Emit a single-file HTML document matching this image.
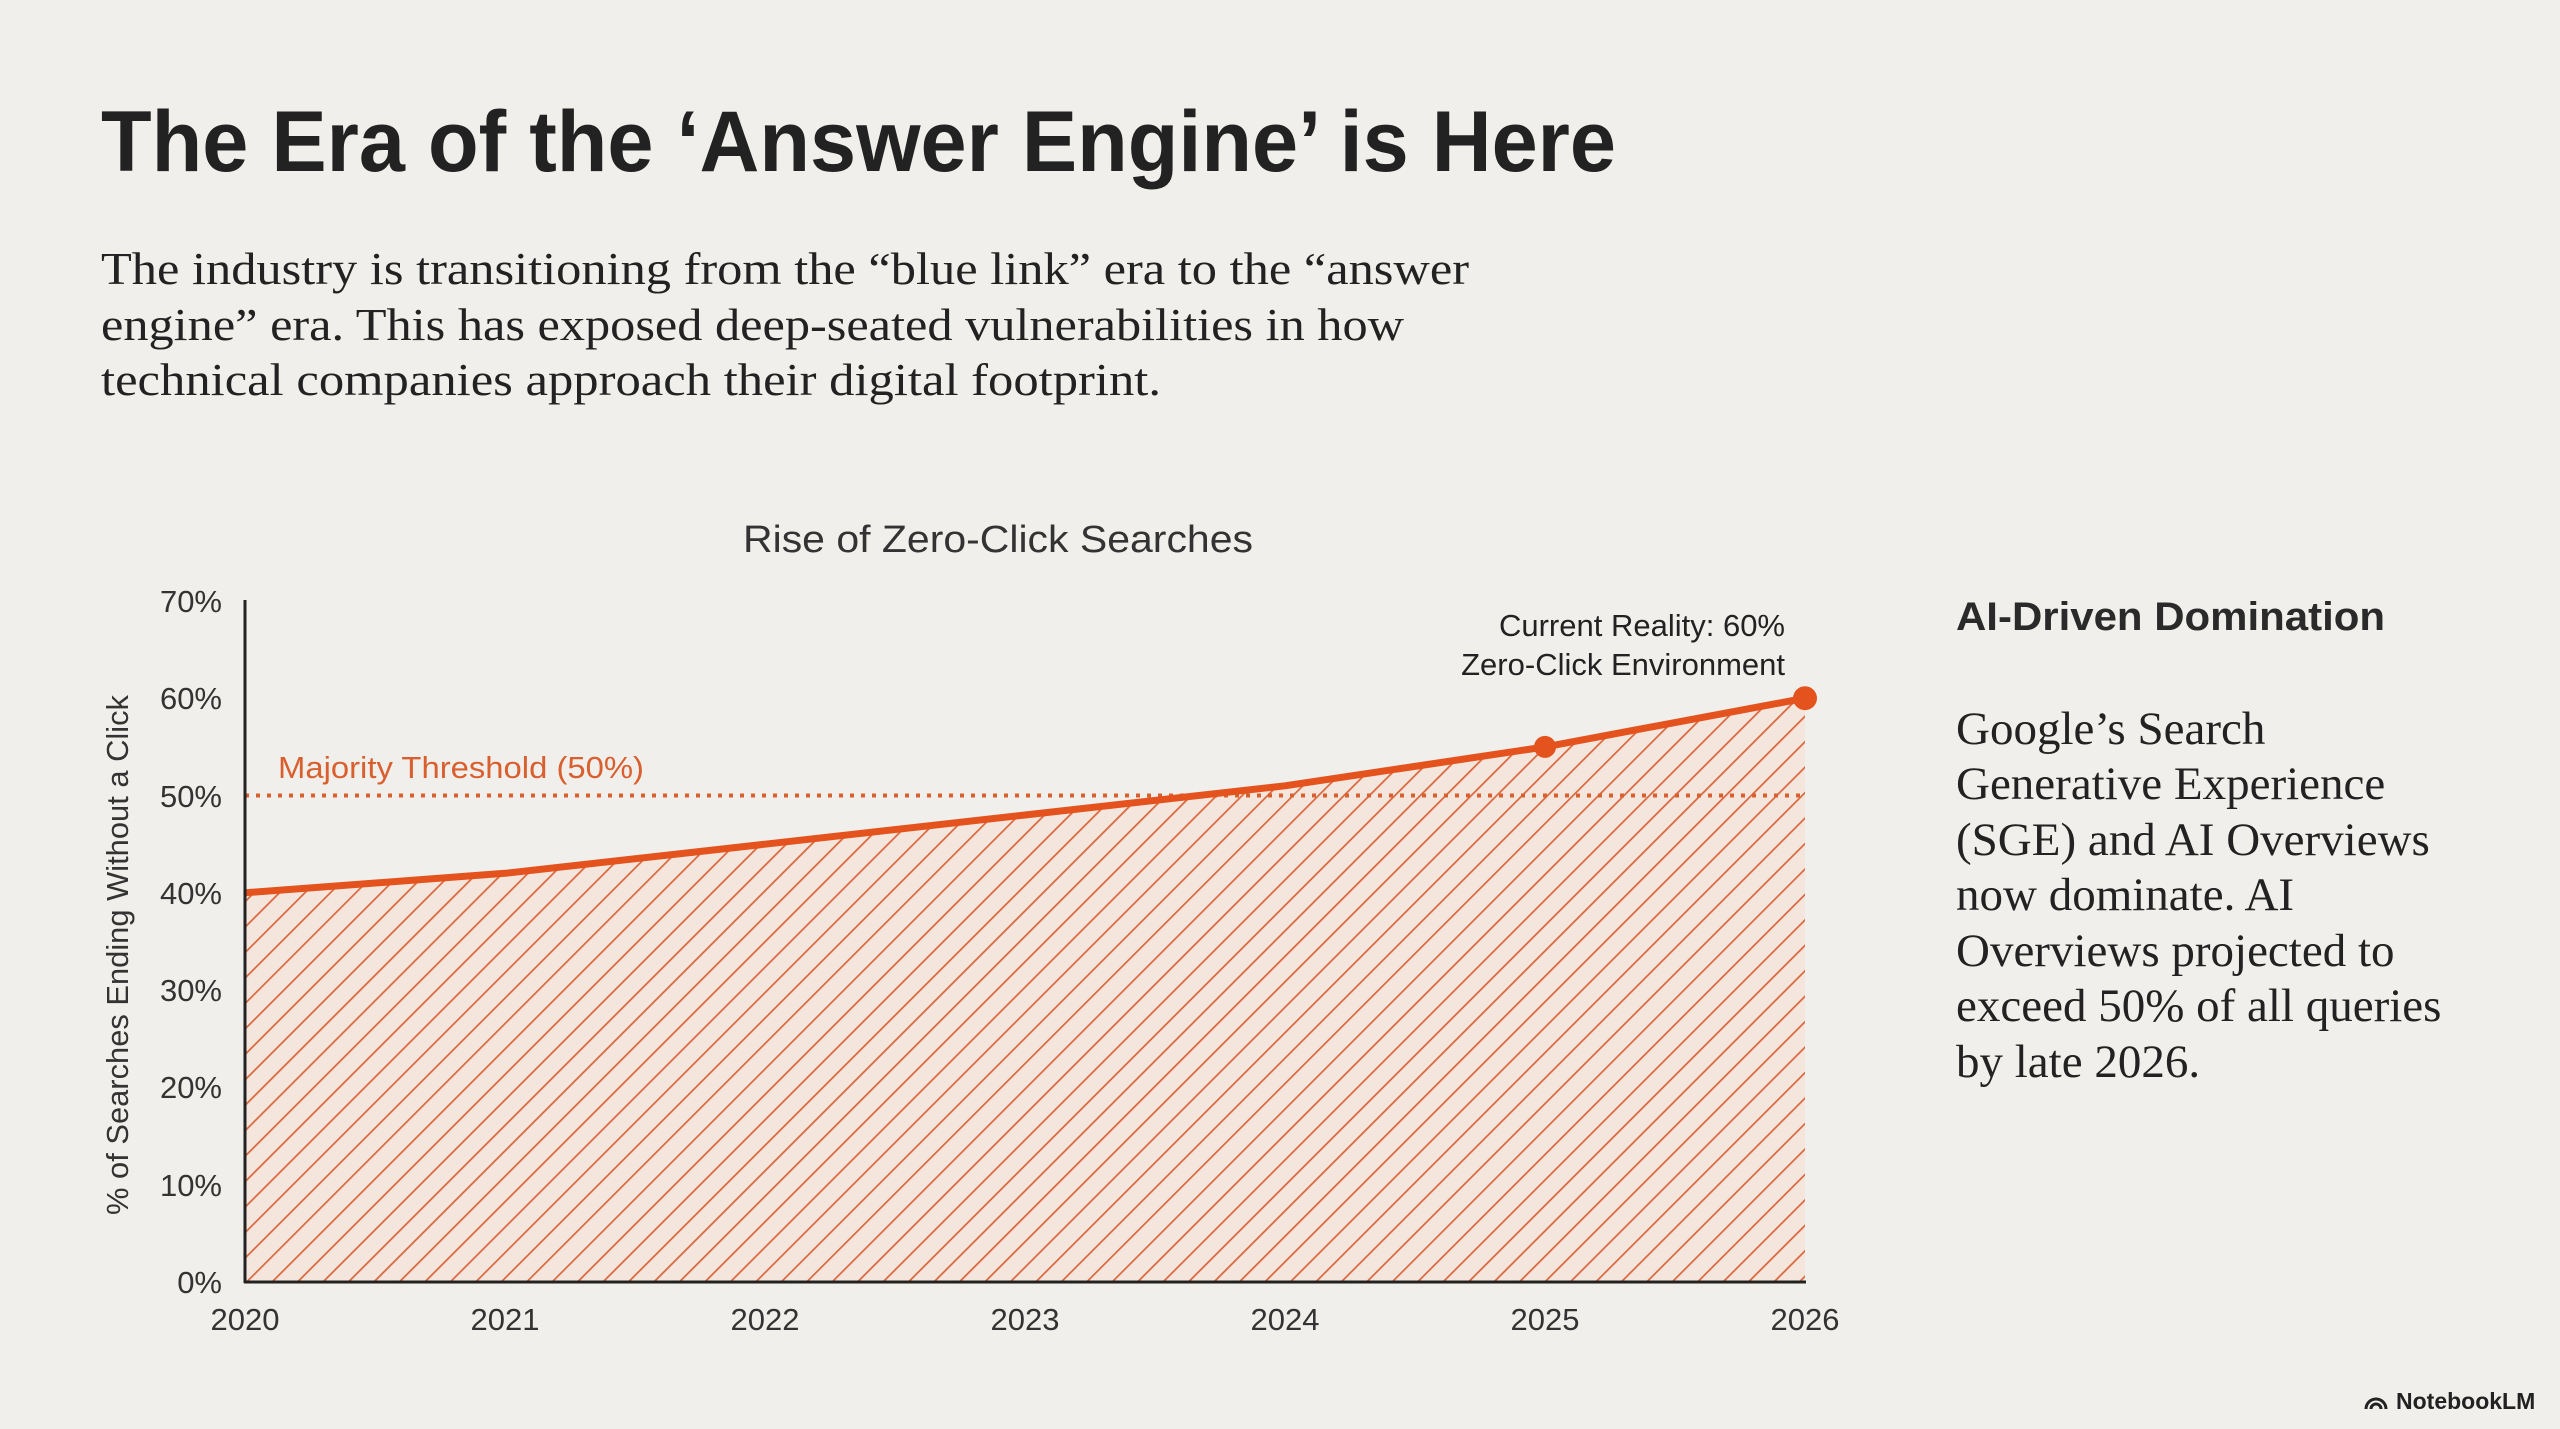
<!DOCTYPE html>
<html><head><meta charset="utf-8"><style>
html,body{margin:0;padding:0;background:#f0efeb;}
svg{display:block}
</style></head><body>
<svg width="2560" height="1429" viewBox="0 0 2560 1429" xmlns="http://www.w3.org/2000/svg">
<defs>
<pattern id="hatch" patternUnits="userSpaceOnUse" width="18" height="18" patternTransform="rotate(45)">
<rect width="18" height="18" fill="#f4e6dd"/>
<line x1="0" y1="0" x2="0" y2="18" stroke="#d9683e" stroke-width="3.5"/>
</pattern>
</defs>
<rect width="2560" height="1429" fill="#f0efeb"/>
<text x="101" y="171" font-family="Liberation Sans, sans-serif" font-weight="bold" font-size="86" fill="#222" textLength="1515" lengthAdjust="spacingAndGlyphs">The Era of the ‘Answer Engine’ is Here</text>
<g font-family="Liberation Serif, serif" font-size="46" fill="#222">
<text x="101" y="284" textLength="1368" lengthAdjust="spacingAndGlyphs">The industry is transitioning from the “blue link” era to the “answer</text>
<text x="101" y="340" textLength="1303" lengthAdjust="spacingAndGlyphs">engine” era. This has exposed deep-seated vulnerabilities in how</text>
<text x="101" y="395" textLength="1060" lengthAdjust="spacingAndGlyphs">technical companies approach their digital footprint.</text>
</g>
<text x="998" y="552" text-anchor="middle" font-family="Liberation Sans, sans-serif" font-size="38" fill="#333" textLength="510" lengthAdjust="spacingAndGlyphs">Rise of Zero-Click Searches</text>
<path d="M245,892.8 L505,873.3 L765,844.2 L1025,815 L1285,785.8 L1545,746.9 L1805,698.2 L1805,1282 L245,1282 Z" fill="url(#hatch)"/>
<line x1="245" y1="795.5" x2="1805" y2="795.5" stroke="#d9602e" stroke-width="4" stroke-dasharray="4,7"/>
<polyline points="245,892.8 505,873.3 765,844.2 1025,815 1285,785.8 1545,746.9 1805,698.2" fill="none" stroke="#e4531e" stroke-width="7" stroke-linejoin="round"/>
<circle cx="1545" cy="746.9" r="11" fill="#e4531e"/>
<circle cx="1805" cy="698.2" r="12" fill="#e4531e"/>
<line x1="245" y1="600" x2="245" y2="1283" stroke="#222" stroke-width="3"/>
<line x1="244" y1="1282" x2="1806" y2="1282" stroke="#222" stroke-width="3"/>
<g font-family="Liberation Sans, sans-serif" font-size="31" fill="#333" text-anchor="end">
<text x="222" y="612">70%</text><text x="222" y="709">60%</text><text x="222" y="807">50%</text>
<text x="222" y="904">40%</text><text x="222" y="1001">30%</text><text x="222" y="1098">20%</text>
<text x="222" y="1196">10%</text><text x="222" y="1293">0%</text>
</g>
<g font-family="Liberation Sans, sans-serif" font-size="31" fill="#333" text-anchor="middle">
<text x="245" y="1330">2020</text><text x="505" y="1330">2021</text><text x="765" y="1330">2022</text>
<text x="1025" y="1330">2023</text><text x="1285" y="1330">2024</text><text x="1545" y="1330">2025</text><text x="1805" y="1330">2026</text>
</g>
<text transform="translate(128,955) rotate(-90)" text-anchor="middle" font-family="Liberation Sans, sans-serif" font-size="31" fill="#333" textLength="520" lengthAdjust="spacingAndGlyphs">% of Searches Ending Without a Click</text>
<text x="278" y="778" font-family="Liberation Sans, sans-serif" font-size="31" fill="#d9602e" textLength="366" lengthAdjust="spacingAndGlyphs">Majority Threshold (50%)</text>
<g font-family="Liberation Sans, sans-serif" font-size="31" fill="#222" text-anchor="end">
<text x="1785" y="636">Current Reality: 60%</text>
<text x="1785" y="675">Zero-Click Environment</text>
</g>
<text x="1956" y="630" font-family="Liberation Sans, sans-serif" font-weight="bold" font-size="40" fill="#2a2a2a" textLength="429" lengthAdjust="spacingAndGlyphs">AI-Driven Domination</text>
<g font-family="Liberation Serif, serif" font-size="47" fill="#222">
<text x="1956" y="744">Google’s Search</text>
<text x="1956" y="799">Generative Experience</text>
<text x="1956" y="855">(SGE) and AI Overviews</text>
<text x="1956" y="910">now dominate. AI</text>
<text x="1956" y="966">Overviews projected to</text>
<text x="1956" y="1021">exceed 50% of all queries</text>
<text x="1956" y="1077">by late 2026.</text>
</g>
<path d="M2366,1409 a10,10 0 0 1 20,0 M2371,1409 a5,5 0 0 1 10,0" fill="none" stroke="#222" stroke-width="3"/>
<text x="2396" y="1409" font-family="Liberation Sans, sans-serif" font-weight="bold" font-size="23" fill="#222">NotebookLM</text>
</svg>
</body></html>
